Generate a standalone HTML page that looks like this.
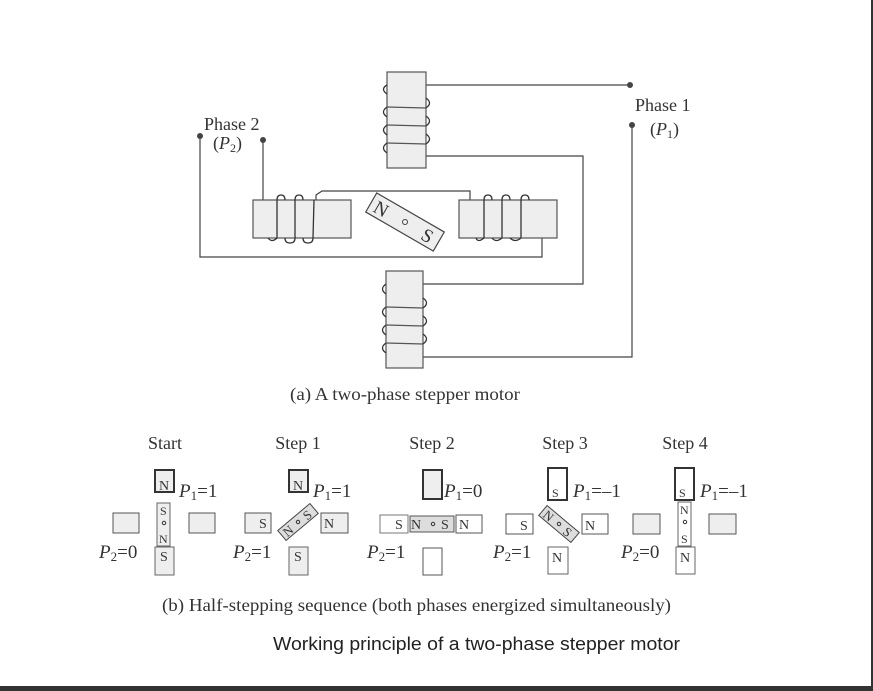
<!DOCTYPE html>
<html><head><meta charset="utf-8"><style>
html,body{margin:0;padding:0;background:#fff;}
svg{display:block}
.s{font-family:"Liberation Serif",serif;fill:#333}
</style></head><body>
<svg width="873" height="691" viewBox="0 0 873 691" xmlns="http://www.w3.org/2000/svg">
<rect x="0" y="0" width="873" height="691" fill="#fff"/>
<rect x="871" y="0" width="2" height="691" fill="#333"/>
<rect x="0" y="686" width="873" height="5" fill="#333"/>
<g stroke="#444" stroke-width="1.2" fill="none">
<polyline points="405,85 630,85"/>
<polyline points="632,125 632,357 405,357"/>
<polyline points="405,156 583,156 583,284 405,284"/>
<polyline points="263,140 263,200"/>
<polyline points="200,136 200,257 542,257 542,238"/>
<polyline points="316,200 316,195 322,191 470,191 470,200"/>
</g>
<g fill="#444"><circle cx="630" cy="85" r="3"/><circle cx="632" cy="125" r="3"/><circle cx="200" cy="136" r="3"/><circle cx="263" cy="140" r="3"/></g>
<g fill="#eee" stroke="#555" stroke-width="1.2">
<rect x="387" y="72" width="39" height="96"/>
<rect x="386" y="271" width="37" height="97"/>
<rect x="253" y="200" width="98" height="38"/>
<rect x="459" y="200" width="98" height="38"/>
</g>
<g stroke="#333" stroke-width="1.3" fill="none">
<path d="M387,85 Q380,89 387,94 M387,107 Q380,112 387,117 M387,125 Q380,130 387,135 M387,143 Q380,148 387,153 M426,98 Q433,103 426,108 M426,116 Q433,121 426,126 M426,134 Q433,139 426,144"/>
<path d="M387,107 L426,108 M387,125 L426,126 M387,143 L426,144" stroke="#555"/>
<path d="M386,284 Q379,289 386,294 M386,307 Q379,312 386,317 M386,325 Q379,330 386,335 M386,343 Q379,348 386,353 M423,298 Q430,303 423,308 M423,316 Q430,321 423,326 M423,334 Q430,339 423,344"/>
<path d="M386,307 L423,308 M386,325 L423,326 M386,343 L423,344" stroke="#555"/>
<path d="M277,238 L277,200 Q277,195 281,195 Q285,195 285,200 M285,238 Q285,243 290,243 Q295,243 295,238 L295,200 Q295,195 299,195 Q303,195 303,200 M303,238 Q303,243 308,243 Q313,243 313,238 L314,200 M277,238 Q272,243 268,238"/>
<path d="M484,200 Q484,195 488,195 Q492,195 492,200 M502,200 Q502,195 506,195 Q510,195 510,200 M521,200 Q521,195 525,195 Q529,195 529,200 M484,200 L484,238 M502,200 L502,238 M521,200 L521,238 M476,238 Q478,243 484,238 M492,238 Q496,243 502,238 M510,238 Q515,243 521,238"/>
</g>
<g transform="translate(405,222) rotate(30)">
<rect x="-39" y="-11" width="78" height="22" fill="#eee" stroke="#444" stroke-width="1.2"/>
<circle cx="0" cy="0" r="2.5" fill="none" stroke="#444"/>
<text x="-34" y="7" class="s" font-size="19">N</text>
<text x="21" y="7" class="s" font-size="19">S</text>
</g>
<text x="635" y="111" class="s" font-size="18">Phase 1</text>
<text x="650" y="135" class="s" font-size="18">(<tspan font-style="italic">P</tspan><tspan font-size="12" dy="3">1</tspan><tspan dy="-3">)</tspan></text>
<text x="204" y="130" class="s" font-size="18">Phase 2</text>
<text x="213" y="149" class="s" font-size="18">(<tspan font-style="italic">P</tspan><tspan font-size="12" dy="3">2</tspan><tspan dy="-3">)</tspan></text>
<text x="290" y="400" class="s" font-size="18" textLength="230" lengthAdjust="spacingAndGlyphs">(a) A two-phase stepper motor</text>

<g class="s" font-size="18" text-anchor="middle">
<text x="165" y="449">Start</text><text x="298" y="449">Step 1</text><text x="432" y="449">Step 2</text><text x="565" y="449">Step 3</text><text x="685" y="449">Step 4</text>
</g>
<g font-family="Liberation Serif,serif" font-size="14" fill="#333">
<g transform="translate(164,0)">
<rect x="-9" y="470" width="19" height="22" fill="#eee" stroke="#333" stroke-width="2"/><text x="-5" y="490">N</text>
<rect x="-51" y="513" width="26" height="20" fill="#eee" stroke="#555"/>
<rect x="25" y="513" width="26" height="20" fill="#eee" stroke="#555"/>
<rect x="-7" y="503" width="13" height="43" fill="#eee" stroke="#666"/><text x="-4" y="515" font-size="12">S</text><circle cx="0" cy="523" r="1.7" fill="none" stroke="#333"/><text x="-5" y="543" font-size="12">N</text>
<rect x="-9" y="547" width="19" height="28" fill="#eee" stroke="#666"/><text x="-4" y="561">S</text>
</g>
<g transform="translate(298,0)">
<rect x="-9" y="470" width="19" height="22" fill="#eee" stroke="#333" stroke-width="2"/><text x="-5" y="490">N</text>
<rect x="-53" y="513" width="26" height="20" fill="#eee" stroke="#555"/><text x="-39" y="528">S</text>
<rect x="23" y="513" width="27" height="20" fill="#eee" stroke="#555"/><text x="26" y="528">N</text>
<g transform="translate(0,522) rotate(-40)"><rect x="-21" y="-6.5" width="42" height="13" fill="#ddd" stroke="#444"/><circle r="1.7" fill="none" stroke="#333"/><text x="-18" y="5" font-size="13">N</text><text x="8" y="5" font-size="13">S</text></g>
<rect x="-9" y="547" width="19" height="28" fill="#eee" stroke="#666"/><text x="-4" y="561">S</text>
</g>
<g transform="translate(432,0)">
<rect x="-9" y="470" width="19" height="29" fill="#eee" stroke="#333" stroke-width="2"/>
<rect x="-52" y="515" width="28" height="18" fill="#fff" stroke="#777"/><text x="-37" y="529">S</text>
<rect x="-22" y="516" width="44" height="16" fill="#ddd" stroke="#555"/><text x="-21" y="529">N</text><circle cx="1" cy="524" r="1.7" fill="none" stroke="#333"/><text x="9" y="529">S</text>
<rect x="24" y="515" width="26" height="18" fill="#fff" stroke="#555"/><text x="27" y="529">N</text>
<rect x="-9" y="548" width="19" height="27" fill="#fff" stroke="#555"/>
</g>
<g transform="translate(557,0)">
<rect x="-9" y="468" width="19" height="32" fill="#fff" stroke="#333" stroke-width="2"/><text x="-5" y="497" font-size="12">S</text>
<rect x="-51" y="514" width="27" height="20" fill="#fff" stroke="#555"/><text x="-37" y="530">S</text>
<rect x="25" y="514" width="26" height="20" fill="#fff" stroke="#555"/><text x="28" y="530">N</text>
<g transform="translate(2,524) rotate(40)"><rect x="-21" y="-6.5" width="42" height="13" fill="#ddd" stroke="#444"/><circle r="1.7" fill="none" stroke="#333"/><text x="-18" y="5" font-size="13">N</text><text x="8" y="5" font-size="13">S</text></g>
<rect x="-9" y="547" width="20" height="27" fill="#fff" stroke="#666"/><text x="-5" y="562">N</text>
</g>
<g transform="translate(685,0)">
<rect x="-10" y="468" width="19" height="32" fill="#fff" stroke="#333" stroke-width="2"/><text x="-6" y="497" font-size="12">S</text>
<rect x="-52" y="514" width="27" height="20" fill="#eee" stroke="#555"/>
<rect x="24" y="514" width="27" height="20" fill="#eee" stroke="#555"/>
<rect x="-7" y="502" width="13" height="44" fill="#fff" stroke="#666"/><text x="-5" y="514" font-size="12">N</text><circle cx="0" cy="522" r="1.7" fill="none" stroke="#333"/><text x="-4" y="543" font-size="12">S</text>
<rect x="-9" y="547" width="19" height="27" fill="#fff" stroke="#666"/><text x="-5" y="562">N</text>
</g>
</g>
<g class="s" font-size="19">
<text x="179" y="497"><tspan font-style="italic">P</tspan><tspan font-size="13" dy="3">1</tspan><tspan dy="-3">=1</tspan></text>
<text x="313" y="497"><tspan font-style="italic">P</tspan><tspan font-size="13" dy="3">1</tspan><tspan dy="-3">=1</tspan></text>
<text x="444" y="497"><tspan font-style="italic">P</tspan><tspan font-size="13" dy="3">1</tspan><tspan dy="-3">=0</tspan></text>
<text x="573" y="497"><tspan font-style="italic">P</tspan><tspan font-size="13" dy="3">1</tspan><tspan dy="-3">=–1</tspan></text>
<text x="700" y="497"><tspan font-style="italic">P</tspan><tspan font-size="13" dy="3">1</tspan><tspan dy="-3">=–1</tspan></text>
<text x="99" y="558"><tspan font-style="italic">P</tspan><tspan font-size="13" dy="3">2</tspan><tspan dy="-3">=0</tspan></text>
<text x="233" y="558"><tspan font-style="italic">P</tspan><tspan font-size="13" dy="3">2</tspan><tspan dy="-3">=1</tspan></text>
<text x="367" y="558"><tspan font-style="italic">P</tspan><tspan font-size="13" dy="3">2</tspan><tspan dy="-3">=1</tspan></text>
<text x="493" y="558"><tspan font-style="italic">P</tspan><tspan font-size="13" dy="3">2</tspan><tspan dy="-3">=1</tspan></text>
<text x="621" y="558"><tspan font-style="italic">P</tspan><tspan font-size="13" dy="3">2</tspan><tspan dy="-3">=0</tspan></text>
</g>
<text x="162" y="611" class="s" font-size="18" textLength="509" lengthAdjust="spacingAndGlyphs">(b) Half-stepping sequence (both phases energized simultaneously)</text>
<text x="273" y="650" font-family="Liberation Sans,sans-serif" font-size="18" fill="#222" textLength="407" lengthAdjust="spacingAndGlyphs">Working principle of a two-phase stepper motor</text>
</svg>
</body></html>
